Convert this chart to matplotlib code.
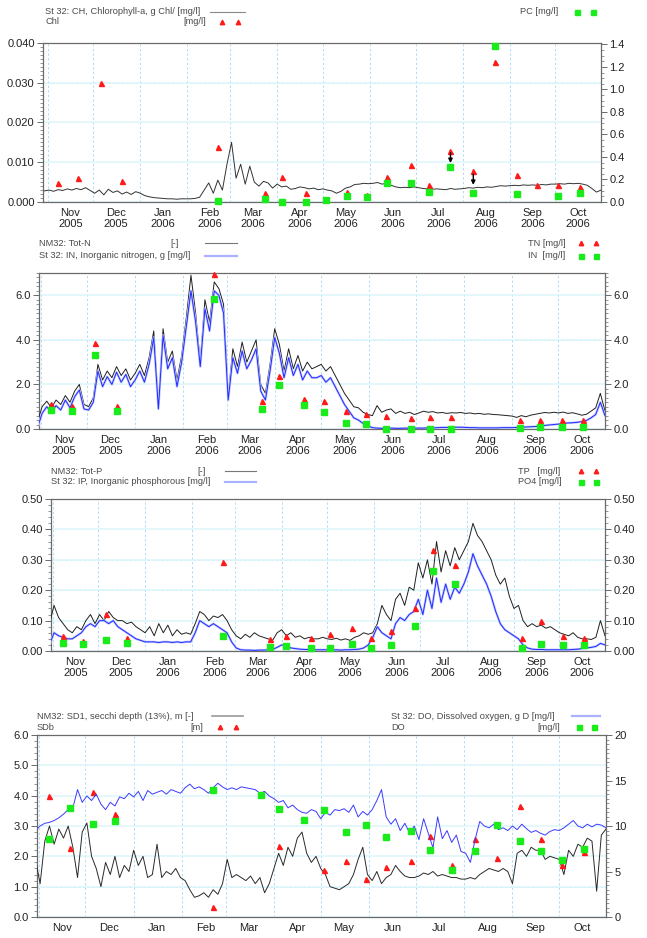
import numpy as np
import matplotlib
matplotlib.use("Agg")
import matplotlib.pyplot as plt
import matplotlib.dates as mdates
from matplotlib.lines import Line2D
from matplotlib.ticker import MultipleLocator, NullFormatter, FormatStrFormatter

plt.rcParams['font.family'] = ['Liberation Sans', 'DejaVu Sans']

# ---------------- data ----------------
line_start = '2005-10-30'   # model series, one value every 3 days
line_step_days = 3

sample_dates = ['2005-11-08', '2005-11-21', '2005-12-06', '2005-12-20', '2006-02-21',
                '2006-03-24', '2006-04-04', '2006-04-20', '2006-05-03', '2006-05-17',
                '2006-05-30', '2006-06-12', '2006-06-28', '2006-07-10', '2006-07-24',
                '2006-08-08', '2006-08-22', '2006-09-06', '2006-09-19', '2006-10-03',
                '2006-10-17']
nan = np.nan

# Panel 1: chlorophyll
chl_line = [0.0028, 0.0030, 0.0027, 0.0031, 0.0029, 0.0033, 0.0030, 0.0034, 0.0031, 0.0036, 0.0029,
            0.0022, 0.0030, 0.0018, 0.0032, 0.0024, 0.0028, 0.0020, 0.0025, 0.0019, 0.0026,
            0.0022, 0.0016, 0.0013, 0.0011, 0.0010, 0.0009, 0.0008, 0.0008, 0.0007, 0.0008, 0.0008,
            0.0008, 0.0009, 0.0012, 0.0030, 0.0048, 0.0022, 0.0055, 0.0030, 0.0095,
            0.0150, 0.0060, 0.0095, 0.0045, 0.0090, 0.0050, 0.0040, 0.0052, 0.0048, 0.0035,
            0.0045, 0.0038, 0.0040, 0.0032, 0.0034, 0.0038, 0.0036, 0.0033, 0.0035, 0.0031,
            0.0033, 0.0030, 0.0028, 0.0022, 0.0027, 0.0035, 0.0038, 0.0044, 0.0045, 0.0047, 0.0046,
            0.0047, 0.0049, 0.0045, 0.0047, 0.0042, 0.0038, 0.0036, 0.0037, 0.0036, 0.0038,
            0.0036, 0.0034, 0.0033, 0.0032, 0.0033, 0.0032, 0.0031, 0.0034, 0.0032, 0.0033,
            0.0034, 0.0036, 0.0035, 0.0037, 0.0036, 0.0038, 0.0037, 0.0039, 0.0041, 0.0040,
            0.0041, 0.0042, 0.0041, 0.0043, 0.0042, 0.0043, 0.0042, 0.0044, 0.0043, 0.0045,
            0.0045, 0.0046, 0.0045, 0.0047, 0.0046, 0.0047, 0.0045, 0.0042, 0.0034, 0.0025, 0.0030]
chl_obs = [0.0047, 0.0060, 0.0300, 0.0053, 0.0139, 0.0022, 0.0063, 0.0022, nan, 0.0024, 0.0018,
           0.0064, 0.0092, 0.0042, 0.0129, 0.0077, 0.0352, 0.0067, 0.0042, 0.0042, 0.0037]
pc_obs = [nan, nan, nan, nan, 0.01, 0.03, 0.003, 0.003, 0.018, 0.05, 0.045,
          0.17, 0.165, 0.09, 0.31, 0.08, 1.386, 0.068, nan, 0.056, 0.077]

# Panel 2: nitrogen
totn_line = [0.3, 1.0, 1.25, 0.95, 1.3, 1.1, 1.5, 1.2, 1.7, 2.0, 1.1,
             1.0, 1.4, 2.9, 2.2, 2.6, 2.3, 2.8, 2.4, 2.7, 2.2,
             2.5, 2.9, 2.4, 3.2, 4.4, 1.0, 4.5, 3.0, 3.5, 2.2, 3.3,
             5.0, 6.9, 5.2, 3.0, 5.8, 4.8, 6.6, 6.3, 5.6,
             1.5, 3.6, 2.8, 3.9, 3.0, 3.5, 4.0, 2.0, 1.6, 2.9,
             4.5, 3.8, 2.6, 3.6, 2.7, 3.3, 2.6, 3.0, 2.7, 2.8,
             2.9, 2.6, 2.8, 2.4, 2.0, 1.6, 1.3, 1.0, 0.95, 0.75, 0.65,
             0.6, 1.05, 0.75, 0.85, 0.9, 0.7, 0.8, 0.7, 0.75, 0.65,
             0.72, 0.8, 0.75, 0.78, 0.72, 0.74, 0.70, 0.73, 0.72, 0.74,
             0.70, 0.72, 0.68, 0.70, 0.66, 0.68, 0.65, 0.64, 0.62, 0.60,
             0.58, 0.52, 0.60, 0.55, 0.62, 0.66, 0.70, 0.74, 0.72, 0.75,
             0.72, 0.76, 0.70, 0.73, 0.68, 0.62, 0.66, 0.80, 0.95, 1.6, 0.8]
in_line = [0.05, 0.7, 1.0, 0.75, 1.05, 0.85, 1.3, 0.95, 1.45, 1.75, 0.9,
           0.85, 1.2, 2.6, 1.9, 2.35, 2.0, 2.55, 2.1, 2.45, 1.9,
           2.2, 2.6, 2.1, 2.9, 4.1, 0.9, 4.2, 2.7, 3.2, 1.9, 3.0,
           4.6, 6.2, 4.8, 2.8, 5.4, 4.4, 6.2, 6.0, 5.2,
           1.3, 3.2, 2.5, 3.5, 2.7, 3.1, 3.6, 1.7, 1.3, 2.6,
           4.1, 3.4, 2.3, 3.2, 2.4, 2.9, 2.2, 2.6, 2.3, 2.3,
           2.4, 2.1, 2.3, 1.9, 1.5, 1.1, 0.8, 0.5, 0.4, 0.25, 0.15,
           0.06, 0.04, 0.03, 0.03, 0.04, 0.03, 0.03, 0.04, 0.03, 0.04,
           0.04, 0.04, 0.05, 0.05, 0.06, 0.07, 0.07, 0.08, 0.08, 0.08,
           0.07, 0.06, 0.06, 0.05, 0.05, 0.05, 0.05, 0.05, 0.06, 0.06,
           0.06, 0.07, 0.08, 0.09, 0.10, 0.11, 0.13, 0.16, 0.18, 0.20,
           0.22, 0.25, 0.27, 0.28, 0.30, 0.33, 0.38, 0.50, 0.65, 1.2, 0.6]
tn_obs = [1.14, 1.02, 3.87, 1.05, 6.94, 1.24, 2.37, 1.36, 1.24, 0.79, 0.66,
          0.60, 0.48, 0.55, 0.55, nan, nan, 0.42, 0.42, 0.42, 0.40]
in_obs = [0.87, 0.80, 3.33, 0.80, 5.85, 0.91, 1.98, 1.08, 0.77, 0.27, 0.24,
          0.02, 0.02, 0.02, 0.02, nan, nan, 0.03, 0.07, 0.10, 0.07]

# Panel 3: phosphorus
totp_line = [0.09, 0.15, 0.11, 0.09, 0.07, 0.06, 0.08, 0.07, 0.10, 0.12, 0.09,
             0.12, 0.10, 0.13, 0.11, 0.10, 0.10, 0.09, 0.095, 0.08, 0.07,
             0.06, 0.08, 0.05, 0.09, 0.06, 0.085, 0.05, 0.07, 0.055, 0.06, 0.055,
             0.09, 0.13, 0.12, 0.10, 0.115, 0.11, 0.12, 0.10, 0.07,
             0.05, 0.04, 0.055, 0.045, 0.06, 0.05, 0.045, 0.04, 0.035, 0.06,
             0.07, 0.05, 0.06, 0.045, 0.05, 0.04, 0.045, 0.04, 0.04, 0.045,
             0.04, 0.038, 0.042, 0.036, 0.04, 0.035, 0.045, 0.05, 0.06, 0.055, 0.06,
             0.09, 0.15, 0.12, 0.10, 0.17, 0.19, 0.15, 0.21, 0.20, 0.29,
             0.24, 0.30, 0.22, 0.36, 0.26, 0.33, 0.28, 0.34, 0.30, 0.33,
             0.36, 0.42, 0.38, 0.36, 0.33, 0.30, 0.25, 0.22, 0.24, 0.18,
             0.14, 0.15, 0.10, 0.08, 0.09, 0.08, 0.085, 0.075, 0.08, 0.07,
             0.06, 0.055, 0.05, 0.06, 0.045, 0.04, 0.04, 0.038, 0.045, 0.10, 0.05]
ip_line = [0.02, 0.06, 0.05, 0.045, 0.04, 0.04, 0.05, 0.06, 0.08, 0.09, 0.08,
           0.10, 0.10, 0.09, 0.10, 0.08, 0.07, 0.06, 0.05, 0.04, 0.035,
           0.03, 0.03, 0.03, 0.028, 0.03, 0.03, 0.028, 0.03, 0.028, 0.03, 0.03,
           0.06, 0.10, 0.09, 0.08, 0.09, 0.08, 0.07, 0.06, 0.03,
           0.01, 0.004, 0.003, 0.003, 0.002, 0.003, 0.003, 0.004, 0.005, 0.012,
           0.02, 0.018, 0.01, 0.008, 0.006, 0.005, 0.005, 0.004, 0.004, 0.004,
           0.004, 0.003, 0.004, 0.003, 0.004, 0.004, 0.005, 0.006, 0.01, 0.02, 0.045,
           0.08, 0.06, 0.05, 0.04, 0.09, 0.11, 0.10, 0.12, 0.13, 0.17,
           0.12, 0.20, 0.14, 0.24, 0.16, 0.22, 0.17, 0.21, 0.19, 0.22,
           0.26, 0.32, 0.28, 0.25, 0.22, 0.18, 0.13, 0.09, 0.07, 0.06,
           0.05, 0.04, 0.02, 0.01, 0.006, 0.005, 0.005, 0.004, 0.004, 0.004,
           0.004, 0.004, 0.004, 0.005, 0.006, 0.008, 0.01, 0.012, 0.015, 0.025, 0.02]
tp_obs = [0.048, 0.033, 0.122, 0.042, 0.293, 0.040, 0.050, 0.042, 0.055, 0.076, 0.044,
          0.066, 0.142, 0.333, 0.282, nan, nan, 0.042, 0.100, 0.050, 0.042]
po4_obs = [0.026, 0.022, 0.037, 0.025, 0.050, 0.013, 0.018, 0.011, 0.009, 0.023, 0.011,
           0.019, 0.083, 0.262, 0.222, nan, nan, 0.011, 0.024, 0.019, 0.019]

# Panel 4: secchi depth and dissolved oxygen
sd_line = [1.9, 1.1, 2.5, 3.0, 2.4, 2.9, 2.6, 3.0, 2.3, 1.3, 2.8,
           3.1, 2.0, 1.6, 1.0, 1.8, 1.4, 2.0, 1.3, 1.7, 1.5,
           2.2, 1.7, 2.0, 1.3, 1.4, 2.4, 1.3, 1.5, 1.4, 1.6, 1.3,
           1.2, 0.9, 0.65, 0.7, 0.8, 0.65, 0.9, 0.75, 1.1,
           1.9, 1.3, 1.4, 1.3, 1.2, 1.35, 1.1, 1.3, 0.8, 1.1,
           1.6, 2.1, 1.7, 2.3, 2.0, 2.6, 2.8, 2.1, 1.8, 2.0,
           1.6, 1.4, 1.0, 0.95, 0.9, 1.0, 1.1, 1.4, 1.9, 2.3, 1.4,
           1.2, 1.5, 1.1, 1.3, 1.4, 1.7, 1.5, 1.35, 1.3, 1.3,
           1.35, 1.45, 1.4, 1.5, 1.35, 1.4, 1.35, 1.3, 1.3, 1.25,
           1.25, 1.3, 1.25, 1.4, 1.5, 1.6, 1.55, 1.5, 1.6, 1.5,
           1.1, 2.1, 2.2, 2.0, 2.3, 2.2, 2.2, 1.9, 2.0, 1.95,
           1.9, 1.4, 2.2, 2.0, 2.4, 2.3, 2.6, 2.5, 0.85, 2.7, 2.9]
do_line = [9.5, 10.0, 10.3, 10.4, 10.6, 10.9, 11.3, 11.8, 12.0, 14.0, 12.6,
           13.3, 12.8, 13.5, 12.4, 11.8, 12.6, 12.2, 13.2, 13.0, 13.6,
           13.2, 13.8, 12.8, 13.9, 13.5, 13.7, 13.9, 13.5, 14.0, 13.8, 13.6,
           14.2, 14.6, 14.1, 14.3, 14.0, 13.6, 14.2, 14.7, 14.3,
           14.0, 14.2, 14.0, 14.3, 14.2, 14.1, 14.0, 13.6, 13.8, 13.3,
           13.0, 12.6, 12.8, 12.0, 12.3, 11.8, 11.5, 11.4, 11.8, 11.6,
           10.8, 11.5, 11.2, 11.8, 11.7, 11.9, 11.5, 12.3, 11.0, 11.6, 11.2,
           11.8, 12.8, 14.0, 11.0, 10.2, 10.8, 9.5, 10.3, 9.2, 10.0,
           8.5, 10.8, 9.2, 7.6, 11.0, 8.6, 9.5, 8.2, 9.0, 7.2,
           7.0, 6.0, 8.5, 10.5, 10.0, 9.8, 10.2, 9.6, 9.8, 9.5,
           10.0, 9.6, 10.2, 9.7, 9.3, 9.5, 9.2, 9.0, 9.4, 9.6,
           9.5, 9.8, 10.2, 10.6, 10.0, 9.8, 10.2, 9.9, 10.2, 10.1, 9.8]
sdb_obs = [4.0, 2.27, 4.12, 3.4, 0.33, nan, 2.33, nan, 1.56, 1.84, 1.24,
           1.65, 1.84, 2.67, 1.70, 2.56, 1.95, 3.66, 2.58, 1.73, 2.13]
do_obs = [8.54, 12.0, 10.25, 10.6, 14.0, 13.4, 11.84, 10.7, 11.76, 9.3, 10.06,
          8.77, 9.49, 7.4, 5.16, 7.25, 10.06, 8.35, 7.25, 6.22, 7.44]

# ---------------- helpers ----------------
W, H = 647, 938
fig = plt.figure(figsize=(W / 100, H / 100), dpi=100)

obs_t = np.array([np.datetime64(d) for d in sample_dates])


def line_dates(vals):
    return np.datetime64(line_start) + np.arange(len(vals)) * np.timedelta64(line_step_days, 'D')


def axrect(l, r, t, b):
    return [l / W, 1 - b / H, (r - l) / W, (b - t) / H]


GRID = '#96d3f2'
SPINE = '#6a6a6a'
TICKC = '#222222'
RED = '#ff1a1a'
GREEN = '#1aeb1a'


def style_axis(ax, years=True, xlim=('2005-10-30', '2006-10-31')):
    ax.set_xlim(np.datetime64(xlim[0]), np.datetime64(xlim[1]))
    ax.xaxis.set_major_locator(mdates.MonthLocator())
    ax.xaxis.set_major_formatter(NullFormatter())
    ax.xaxis.set_minor_locator(mdates.MonthLocator(bymonthday=16))
    ax.xaxis.set_minor_formatter(mdates.DateFormatter('%b\n%Y' if years else '%b'))
    ax.tick_params(axis='x', which='both', length=0, labelsize=8, labelcolor=TICKC, pad=4)
    ax.grid(axis='x', which='major', color=GRID, ls=(0, (3, 3)), lw=0.55)
    ax.grid(axis='y', which='major', color='#dcf6fc', ls='-', lw=1.1)
    for s in ax.spines.values():
        s.set_color(SPINE)
        s.set_linewidth(0.9)
    ax.tick_params(axis='y', which='major', direction='out', length=4, width=0.7,
                   color=SPINE, labelsize=8, labelcolor=TICKC, pad=2)
    ax.tick_params(axis='y', which='minor', direction='out', length=2, width=0.5, color=SPINE)
    ax.set_axisbelow(True)


def hgrid_dashed(ax, vals):
    for v in vals:
        ax.axhline(v, color=GRID, ls=(0, (3, 3)), lw=0.55, zorder=0.5)


def style_right(axr):
    for s in axr.spines.values():
        s.set_visible(False)
    axr.tick_params(axis='y', which='major', direction='out', length=4, width=0.7,
                    color=SPINE, labelsize=8, labelcolor=TICKC, pad=2)
    axr.tick_params(axis='y', which='minor', direction='out', length=2, width=0.5, color=SPINE)


def ftext(x, y, s, ha='left'):
    fig.text(x / W, 1 - y / H, s, fontsize=6.7, color='#4a4a4a', va='center', ha=ha)


def fline(x0, x1, y, color, lw):
    fig.add_artist(Line2D([x0 / W, x1 / W], [1 - y / H] * 2, color=color, lw=lw,
                          transform=fig.transFigure))


def fmarks(xs, y, marker, color, ms):
    fig.add_artist(Line2D([x / W for x in xs], [1 - y / H] * len(xs), ls='none', marker=marker,
                          color=color, mec=color, ms=ms, transform=fig.transFigure))


def obs(ax, vals, kind):
    v = np.array(vals, dtype=float)
    if kind == 'tri':
        ax.plot(obs_t, v, ls='none', marker='^', ms=3.6, color=RED, mec=RED, zorder=5, clip_on=False)
    else:
        ax.plot(obs_t, v, ls='none', marker='s', ms=4.0, color=GREEN, mec=GREEN, zorder=5, clip_on=False)


# ---------------- panel 1 ----------------
ax1 = fig.add_axes(axrect(43, 601, 43, 202))
style_axis(ax1, xlim=('2005-10-29', '2006-10-31'))
ax1.set_ylim(0, 0.040)
ax1.yaxis.set_major_locator(MultipleLocator(0.010))
ax1.yaxis.set_minor_locator(MultipleLocator(0.001))
ax1.yaxis.set_major_formatter(FormatStrFormatter('%.3f'))
hgrid_dashed(ax1, [0.030])
ax1.plot(line_dates(chl_line), chl_line, color='#333333', lw=0.7, zorder=3)
obs(ax1, chl_obs, 'tri')
for d, y0, y1 in [('2006-07-24', 0.0124, 0.0098), ('2006-08-08', 0.0070, 0.0043)]:
    ax1.annotate('', xy=(np.datetime64(d), y1), xytext=(np.datetime64(d), y0),
                 arrowprops=dict(arrowstyle='-|>', color='black', lw=1.0,
                                 mutation_scale=6, shrinkA=0, shrinkB=0), zorder=6)
ax1r = ax1.twinx()
style_right(ax1r)
ax1r.set_ylim(0, 1.413)
ax1r.yaxis.set_major_locator(MultipleLocator(0.2))
ax1r.yaxis.set_minor_locator(MultipleLocator(0.05))
ax1r.yaxis.set_major_formatter(FormatStrFormatter('%.1f'))
obs(ax1r, pc_obs, 'sq')
ax1r.set_ylim(0, 1.413)

ftext(45, 12, 'St 32: CH, Chlorophyll-a, g Chl/ [mg/l]')
fline(210, 245, 12, '#888888', 0.8)
ftext(45, 22, 'Chl')
ftext(183, 22, '[mg/l]')
fmarks([222, 238], 22, '^', RED, 3.2)
ftext(520, 12, 'PC [mg/l]')
fmarks([577, 593], 12, 's', GREEN, 3.6)

# ---------------- panel 2 ----------------
ax2 = fig.add_axes(axrect(39, 605, 273, 429))
style_axis(ax2, xlim=('2005-10-31', '2006-10-31'))
ax2.set_ylim(0, 7.0)
ax2.yaxis.set_major_locator(MultipleLocator(2.0))
ax2.yaxis.set_minor_locator(MultipleLocator(0.2))
ax2.yaxis.set_major_formatter(FormatStrFormatter('%.1f'))
hgrid_dashed(ax2, [4.0])
ax2.plot(line_dates(totn_line), totn_line, color='#202020', lw=0.7, zorder=3)
ax2.plot(line_dates(in_line), in_line, color='#c2c7ff', lw=1.7, zorder=3.1)
ax2.plot(line_dates(in_line), in_line, color='#1f2bff', lw=0.7, zorder=3.2)
obs(ax2, tn_obs, 'tri')
obs(ax2, in_obs, 'sq')
ax2r = ax2.twinx()
style_right(ax2r)
ax2r.set_ylim(0, 7.0)
ax2r.yaxis.set_major_locator(MultipleLocator(2.0))
ax2r.yaxis.set_minor_locator(MultipleLocator(0.2))
ax2r.yaxis.set_major_formatter(FormatStrFormatter('%.1f'))

ftext(39, 243, 'NM32: Tot-N')
ftext(170, 243, '[-]')
fline(205, 237, 243, '#777777', 0.8)
ftext(39, 256, 'St 32: IN, Inorganic nitrogen, g [mg/l]')
fline(205, 237, 256, '#aab2ff', 1.6)
ftext(528, 243, 'TN [mg/l]')
fmarks([581, 596], 243, '^', RED, 3.2)
ftext(528, 256, 'IN  [mg/l]')
fmarks([581, 596], 256, 's', GREEN, 3.6)

# ---------------- panel 3 ----------------
ax3 = fig.add_axes(axrect(51, 605, 499, 651))
style_axis(ax3, xlim=('2005-10-31', '2006-10-31'))
ax3.set_ylim(0, 0.50)
ax3.yaxis.set_major_locator(MultipleLocator(0.10))
ax3.yaxis.set_minor_locator(MultipleLocator(0.02))
ax3.yaxis.set_major_formatter(FormatStrFormatter('%.2f'))
hgrid_dashed(ax3, [0.20, 0.30])
ax3.plot(line_dates(totp_line), totp_line, color='#202020', lw=0.7, zorder=3)
ax3.plot(line_dates(ip_line), ip_line, color='#c2c7ff', lw=1.7, zorder=3.1)
ax3.plot(line_dates(ip_line), ip_line, color='#1f2bff', lw=0.7, zorder=3.2)
obs(ax3, tp_obs, 'tri')
obs(ax3, po4_obs, 'sq')
ax3r = ax3.twinx()
style_right(ax3r)
ax3r.set_ylim(0, 0.50)
ax3r.yaxis.set_major_locator(MultipleLocator(0.10))
ax3r.yaxis.set_minor_locator(MultipleLocator(0.02))
ax3r.yaxis.set_major_formatter(FormatStrFormatter('%.2f'))

ftext(51, 471, 'NM32: Tot-P')
ftext(197, 471, '[-]')
fline(225, 256, 471, '#777777', 0.8)
ftext(51, 482, 'St 32: IP, Inorganic phosphorous [mg/l]')
fline(225, 256, 482, '#aab2ff', 1.6)
ftext(518, 471, 'TP   [mg/l]')
fmarks([581, 596], 471, '^', RED, 3.2)
ftext(518, 482, 'PO4 [mg/l]')
fmarks([581, 596], 482, 's', GREEN, 3.6)

# ---------------- panel 4 ----------------
ax4 = fig.add_axes(axrect(37, 606, 735, 917))
style_axis(ax4, years=False, xlim=('2005-10-31', '2006-10-31'))
ax4.set_ylim(0, 6.0)
ax4.yaxis.set_major_locator(MultipleLocator(1.0))
ax4.yaxis.set_minor_locator(MultipleLocator(0.2))
ax4.yaxis.set_major_formatter(FormatStrFormatter('%.1f'))
hgrid_dashed(ax4, [1.0])
ax4.plot(line_dates(sd_line), sd_line, color='#2a2a2a', lw=0.7, zorder=3)
obs(ax4, sdb_obs, 'tri')
ax4r = ax4.twinx()
style_right(ax4r)
ax4r.set_ylim(0, 20)
ax4r.yaxis.set_major_locator(MultipleLocator(5))
ax4r.yaxis.set_minor_locator(MultipleLocator(0.5))
ax4r.yaxis.set_major_formatter(FormatStrFormatter('%d'))
ax4r.plot(line_dates(do_line), do_line, color='#3a3aff', lw=0.7, zorder=3)
obs(ax4r, do_obs, 'sq')

ftext(37, 716, 'NM32: SD1, secchi depth (13%), m [-]')
fline(212, 243, 716, '#999999', 1.2)
ftext(37, 727, 'SDb')
ftext(190, 727, '[m]')
fmarks([220, 236], 727, '^', RED, 3.2)
ftext(391, 716, 'St 32: DO, Dissolved oxygen, g D [mg/l]')
fline(572, 600, 716, '#aab2ff', 1.6)
ftext(391, 727, 'DO')
ftext(537, 727, '[mg/l]')
fmarks([579, 594], 727, 's', GREEN, 3.6)

fig.savefig('out.png', dpi=100)
